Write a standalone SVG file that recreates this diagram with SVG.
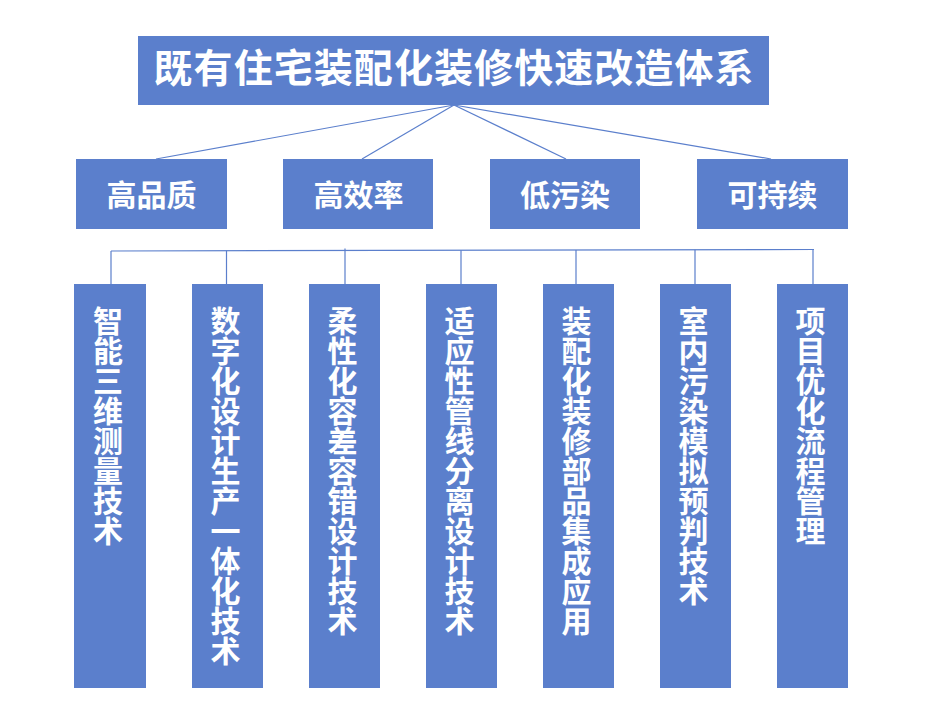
<svg xmlns="http://www.w3.org/2000/svg" width="941" height="717" viewBox="0 0 941 717">
<style>
.box{fill:#5B7FCC;}
.t{fill:#FFFFFF;font-family:"Noto Sans CJK SC","Noto Sans CJK JP",sans-serif;font-weight:bold;text-anchor:middle;dominant-baseline:central;}
.title{font-size:39px;}
.mid{font-size:30px;}
.col{font-size:30px;}
.conn line{stroke:#5B7FCC;stroke-width:1.2;fill:none;}
</style>
<rect width="941" height="717" fill="#FFFFFF"/>
<g id="connectors" class="conn">
<line x1="454" y1="105" x2="156" y2="159"/>
<line x1="454" y1="105" x2="362" y2="159"/>
<line x1="454" y1="105" x2="566" y2="159"/>
<line x1="454" y1="105" x2="771" y2="159"/>
<line x1="111" y1="251" x2="814" y2="249.5"/>
<line x1="111" y1="251" x2="111" y2="284"/>
<line x1="226.5" y1="250.7" x2="226.5" y2="284"/>
<line x1="345" y1="248.5" x2="345" y2="284"/>
<line x1="461" y1="250.2" x2="461" y2="284"/>
<line x1="576" y1="250" x2="576" y2="284"/>
<line x1="695" y1="249.7" x2="695" y2="284"/>
<line x1="813" y1="249.5" x2="813" y2="284"/>
</g>
<g id="root">
<rect class="box" x="138" y="36" width="631" height="69"/>
<text class="t title" x="453.5" y="65" textLength="600" lengthAdjust="spacing">既有住宅装配化装修快速改造体系</text>
</g>
<g id="n-gaopinzhi">
<rect class="box" x="76" y="159" width="151" height="70"/>
<text class="t mid" x="151.5" y="193">高品质</text>
</g>
<g id="n-gaoxiaolv">
<rect class="box" x="283" y="159" width="150" height="70"/>
<text class="t mid" x="358.5" y="193">高效率</text>
</g>
<g id="n-diwuran">
<rect class="box" x="490" y="159" width="150" height="70"/>
<text class="t mid" x="565" y="193">低污染</text>
</g>
<g id="n-kechixu">
<rect class="box" x="697" y="159" width="151" height="70"/>
<text class="t mid" x="772.5" y="193">可持续</text>
</g>
<g id="c1">
<rect class="box" x="74" y="284" width="72" height="404"/>
<text class="t col" x="108"><tspan x="108" y="319">智</tspan><tspan x="108" y="349">能</tspan><tspan x="108" y="379">三</tspan><tspan x="108" y="409">维</tspan><tspan x="108" y="439">测</tspan><tspan x="108" y="469">量</tspan><tspan x="108" y="499">技</tspan><tspan x="108" y="529">术</tspan></text>
</g>
<g id="c2">
<rect class="box" x="192" y="284" width="71" height="404"/>
<text class="t col" x="225.5"><tspan x="225.5" y="319">数</tspan><tspan x="225.5" y="349">字</tspan><tspan x="225.5" y="379">化</tspan><tspan x="225.5" y="409">设</tspan><tspan x="225.5" y="439">计</tspan><tspan x="225.5" y="469">生</tspan><tspan x="225.5" y="499">产</tspan><tspan x="225.5" y="529">一</tspan><tspan x="225.5" y="559">体</tspan><tspan x="225.5" y="589">化</tspan><tspan x="225.5" y="619">技</tspan><tspan x="225.5" y="649">术</tspan></text>
</g>
<g id="c3">
<rect class="box" x="309" y="284" width="71" height="404"/>
<text class="t col" x="342.5"><tspan x="342.5" y="319">柔</tspan><tspan x="342.5" y="349">性</tspan><tspan x="342.5" y="379">化</tspan><tspan x="342.5" y="409">容</tspan><tspan x="342.5" y="439">差</tspan><tspan x="342.5" y="469">容</tspan><tspan x="342.5" y="499">错</tspan><tspan x="342.5" y="529">设</tspan><tspan x="342.5" y="559">计</tspan><tspan x="342.5" y="589">技</tspan><tspan x="342.5" y="619">术</tspan></text>
</g>
<g id="c4">
<rect class="box" x="426" y="284" width="71" height="404"/>
<text class="t col" x="459.5"><tspan x="459.5" y="319">适</tspan><tspan x="459.5" y="349">应</tspan><tspan x="459.5" y="379">性</tspan><tspan x="459.5" y="409">管</tspan><tspan x="459.5" y="439">线</tspan><tspan x="459.5" y="469">分</tspan><tspan x="459.5" y="499">离</tspan><tspan x="459.5" y="529">设</tspan><tspan x="459.5" y="559">计</tspan><tspan x="459.5" y="589">技</tspan><tspan x="459.5" y="619">术</tspan></text>
</g>
<g id="c5">
<rect class="box" x="543" y="284" width="71" height="404"/>
<text class="t col" x="576.5"><tspan x="576.5" y="319">装</tspan><tspan x="576.5" y="349">配</tspan><tspan x="576.5" y="379">化</tspan><tspan x="576.5" y="409">装</tspan><tspan x="576.5" y="439">修</tspan><tspan x="576.5" y="469">部</tspan><tspan x="576.5" y="499">品</tspan><tspan x="576.5" y="529">集</tspan><tspan x="576.5" y="559">成</tspan><tspan x="576.5" y="589">应</tspan><tspan x="576.5" y="619">用</tspan></text>
</g>
<g id="c6">
<rect class="box" x="660" y="284" width="71" height="404"/>
<text class="t col" x="693.5"><tspan x="693.5" y="319">室</tspan><tspan x="693.5" y="349">内</tspan><tspan x="693.5" y="379">污</tspan><tspan x="693.5" y="409">染</tspan><tspan x="693.5" y="439">模</tspan><tspan x="693.5" y="469">拟</tspan><tspan x="693.5" y="499">预</tspan><tspan x="693.5" y="529">判</tspan><tspan x="693.5" y="559">技</tspan><tspan x="693.5" y="589">术</tspan></text>
</g>
<g id="c7">
<rect class="box" x="777" y="284" width="71" height="404"/>
<text class="t col" x="810.5"><tspan x="810.5" y="319">项</tspan><tspan x="810.5" y="349">目</tspan><tspan x="810.5" y="379">优</tspan><tspan x="810.5" y="409">化</tspan><tspan x="810.5" y="439">流</tspan><tspan x="810.5" y="469">程</tspan><tspan x="810.5" y="499">管</tspan><tspan x="810.5" y="529">理</tspan></text>
</g>
</svg>
